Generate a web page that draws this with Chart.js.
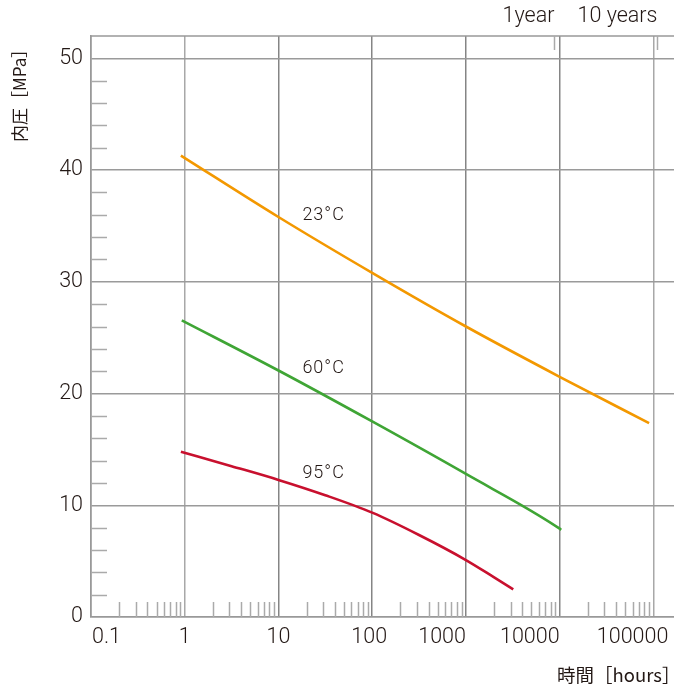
<!DOCTYPE html>
<html lang="ja">
<head>
<meta charset="UTF-8" />
<title>内圧 / 時間</title>
<script src="https://cdn.jsdelivr.net/npm/chart.js"></script>
<style>
  html, body { margin: 0; padding: 0; background: #fff; }
  #wrap { width: 674px; height: 691px; }
</style>
</head>
<body>
<div id="wrap"><canvas id="pressureChart" width="674" height="691"></canvas></div>
<script>
  // values (x = hours, y = MPa)
  var hours23 = [0.91, 10, 100, 1000, 10000, 90000];
  var mpa23 = [41.3, 35.8, 30.8, 26.0, 21.5, 17.35];
  var hours60 = [0.93, 10, 100, 1000, 10000, 10400];
  var mpa60 = [26.55, 22.06, 17.5, 12.8, 7.91, 7.8];
  var hours95 = [0.91, 3.16, 10, 31.6, 100, 316, 1000, 2000, 3200];
  var mpa95 = [14.8, 13.5, 12.27, 10.9, 9.34, 7.34, 5.1, 3.55, 2.48];

  var seriesNames = ["23°C", "60°C", "95°C"];
  var seriesLabelAt = [[18, 35.9], [18, 22.2], [18, 12.8]]; // hours, MPa

  var decadeTicks = [0.1, 1, 10, 100, 1000, 10000, 100000];
  var decadeLabels = ["0.1", "1", "10", "100", "1000", "10000", "100000"];
  var markHours = [8760, 109000];
  var markLabels = ["1year", "10 years"];

  var textColor = "#231815";
  var latin = "Roboto, 'Liberation Sans', sans-serif";
  var cjk = "'Noto Sans CJK JP', sans-serif";

  function pts(xs, ys) {
    var out = [];
    for (var i = 0; i < xs.length; i++) out.push({ x: xs[i], y: ys[i] });
    return out;
  }

  // minor ticks, top edge, extra labels
  var extras = {
    id: "extras",
    afterDraw: function (chart) {
      var ctx = chart.ctx;
      var area = chart.chartArea;
      var xs = chart.scales.x;
      var ys = chart.scales.y;
      ctx.save();

      // top edge
      ctx.strokeStyle = "#999";
      ctx.lineWidth = 1.5;
      ctx.beginPath();
      ctx.moveTo(area.left, area.top);
      ctx.lineTo(area.right, area.top);
      ctx.stroke();

      // minor x ticks 2..9 in each decade
      ctx.strokeStyle = "#aaa";
      ctx.lineWidth = 1.5;
      for (var d = 0; d < decadeTicks.length; d++) {
        for (var m = 2; m <= 9; m++) {
          var v = decadeTicks[d] * m;
          if (v > xs.max) continue;
          var px = Math.round(xs.getPixelForValue(v)) + 0.5;
          ctx.beginPath();
          ctx.moveTo(px, area.bottom);
          ctx.lineTo(px, area.bottom - 15);
          ctx.stroke();
        }
      }
      // minor y ticks every 2
      for (var t = 2; t < 52; t += 2) {
        if (t % 10 === 0) continue;
        var py = Math.round(ys.getPixelForValue(t)) + 0.5;
        ctx.beginPath();
        ctx.moveTo(area.left, py);
        ctx.lineTo(area.left + 16, py);
        ctx.stroke();
      }

      // x tick labels
      ctx.fillStyle = textColor;
      ctx.font = "300 21.5px " + latin;
      ctx.textBaseline = "middle";
      for (var i = 0; i < decadeTicks.length; i++) {
        var gx = xs.getPixelForValue(decadeTicks[i]);
        if (i === 0) {
          ctx.textAlign = "left";
          gx += 1;
        } else if (i <= 3) {
          ctx.textAlign = "center";
          if (i === 3) gx -= 3;
        } else {
          ctx.textAlign = "right";
          if (i === 6) gx += 15;
        }
        ctx.fillText(decadeLabels[i], gx, area.bottom + 21);
      }

      // 1 year / 10 years marks at the top
      ctx.strokeStyle = "#aaa";
      ctx.lineWidth = 1.5;
      ctx.textAlign = "right";
      for (var k = 0; k < markHours.length; k++) {
        var mx = Math.round(xs.getPixelForValue(markHours[k])) + 0.5;
        ctx.beginPath();
        ctx.moveTo(mx, area.top);
        ctx.lineTo(mx, area.top + 14);
        ctx.stroke();
        ctx.fillText(markLabels[k], mx, 17);
      }

      // curve labels
      ctx.font = "300 18px " + latin;
      ctx.letterSpacing = "1px";
      ctx.textAlign = "left";
      for (var s = 0; s < seriesNames.length; s++) {
        ctx.fillText(
          seriesNames[s],
          xs.getPixelForValue(seriesLabelAt[s][0]),
          ys.getPixelForValue(seriesLabelAt[s][1])
        );
      }
      ctx.letterSpacing = "0px";

      // axis titles
      ctx.font = "18.5px " + cjk;
      ctx.textAlign = "left";
      ctx.fillText("時間［hours］", 557, 675);
      ctx.font = "17px " + cjk;
      ctx.translate(20, 142);
      ctx.rotate(-Math.PI / 2);
      ctx.fillText("内圧［MPa］", 0, 0);
      ctx.restore();
    }
  };

  var ctx = document.getElementById("pressureChart").getContext("2d");
  var chart = new Chart(ctx, {
    type: "line",
    data: {
      datasets: [
        { label: seriesNames[0], data: pts(hours23, mpa23), borderColor: "#f39800" },
        { label: seriesNames[1], data: pts(hours60, mpa60), borderColor: "#3fa535" },
        { label: seriesNames[2], data: pts(hours95, mpa95), borderColor: "#c8102e" }
      ]
    },
    options: {
      responsive: false,
      animation: false,
      layout: { padding: { top: 36, right: 0, left: 0, bottom: 0 } },
      elements: {
        line: { borderWidth: 2.6, cubicInterpolationMode: "monotone", fill: false },
        point: { radius: 0 }
      },
      plugins: { legend: { display: false }, tooltip: { enabled: false } },
      scales: {
        x: {
          type: "logarithmic",
          min: 0.1,
          max: 166000,
          afterBuildTicks: function (scale) {
            scale.ticks = decadeTicks.map(function (v) { return { value: v }; });
          },
          afterFit: function (scale) { scale.height = 74; },
          ticks: { display: false },
          grid: {
            drawTicks: false,
            lineWidth: 1.5,
            color: function (c) {
              var v = c.tick && c.tick.value;
              return v === 1 || v === 100000 ? "#a8a8a8" : "#858585";
            }
          },
          border: { color: "#999", width: 1.5 }
        },
        y: {
          min: 0,
          max: 52,
          afterFit: function (scale) { scale.width = 91; },
          ticks: {
            stepSize: 10,
            includeBounds: false,
            padding: 8,
            color: textColor,
            font: { family: latin, size: 21.5, weight: 300 }
          },
          grid: { drawTicks: false, lineWidth: 1.5, color: "#9a9a9a" },
          border: { color: "#999", width: 1.5 }
        }
      }
    },
    plugins: [extras]
  });
</script>
</body>
</html>
